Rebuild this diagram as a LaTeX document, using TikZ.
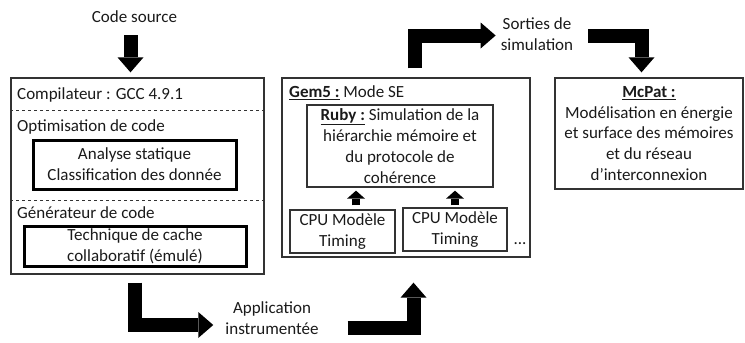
\documentclass[tikz,border=0pt]{standalone}
\usepackage{fontspec}
\setmainfont{Carlito}
\usetikzlibrary{arrows.meta,positioning,calc}
\definecolor{ink}{HTML}{1A1A1A}
\definecolor{edge}{HTML}{333333}
\tikzset{
  lbl/.style    ={align=center, inner sep=2pt, text=ink, font=\fontsize{17}{21}\selectfont},
  blk/.style    ={lbl, draw=edge, rectangle, line width=1.3pt},
  blkthick/.style={blk, draw=black, line width=3pt},
  cut/.style    ={dashed, line width=0.6pt, draw=edge},
  fat/.style    ={-{Triangle[length=15pt 0, width=26pt 0, line width=0pt]}, line width=14pt, line join=miter},
  arsmall/.style={-{Triangle[length=8pt 0, width=18pt 0, line width=0pt]}, line width=8pt},
}
\begin{document}
\begin{tikzpicture}[x=1pt,y=-1pt]
\useasboundingbox (0,0) rectangle (745,343);
\node[lbl] (code) at (134.5,17) {Code source};
\node[blk, minimum width=253pt, minimum height=196pt] (comp) at (137.5,176) {};
\node[lbl, anchor=west] (comptitle) at (15,95) {Compilateur : GCC 4.9.1};
\draw[cut] (comp.west |- 0,110) -- (comp.east |- 0,110);
\node[lbl, anchor=west] (optim) at (15,127) {Optimisation de code};
\node[blkthick, minimum width=203pt, minimum height=49pt] (analyse) at (134.5,164.5)
  {Analyse statique\\Classification des donnée};
\draw[cut] (comp.west |- 0,200) -- (comp.east |- 0,200);
\node[lbl, anchor=west] (gen) at (15,213) {Générateur de code};
\node[blkthick, minimum width=222pt, minimum height=40pt] (tech) at (135,246)
  {Technique de cache\\collaboratif (émulé)};
\node[blk, minimum width=248pt, minimum height=179pt] (gem) at (406,167.5) {};
\node[lbl, anchor=west] (gemtitle) at (287,93) {\underline{\textbf{Gem5 :}} Mode SE};
\node[blk, minimum width=186pt, minimum height=82pt, inner sep=0pt] (ruby) at (400,146)
  {\underline{\textbf{Ruby :}} Simulation de la\\hiérarchie mémoire et\\du protocole de\\cohérence};
\node[blk, minimum width=105pt, minimum height=43pt] (cpua) at (342.5,231.5) {CPU Modèle\\Timing};
\node[blk, minimum width=104pt, minimum height=43pt] (cpub) at (455,229.5) {CPU Modèle\\Timing};
\node[lbl] (dots) at (520,244) {...};
\draw[arsmall, shorten <=4pt, shorten >=3pt] ([xshift=13.5pt]cpua.north) -- ([xshift=13.5pt]cpua.north |- ruby.south);
\draw[arsmall, shorten <=2pt, shorten >=3pt] (cpub.north) -- (cpub.north |- ruby.south);
\node[blk, minimum width=188pt, minimum height=111pt, font=\fontsize{17}{20.75}\selectfont] (mcpat) at (649,133.5)
  {\underline{\textbf{McPat :}}\\Modélisation en énergie\\et surface des mémoires\\et du réseau\\d’interconnexion};
\node[lbl] (app) at (272,318) {Application\\instrumentée};
\node[lbl] (sorties) at (537,34) {Sorties de\\simulation};
\draw[fat, shorten <=10pt, shorten >=5pt] ([xshift=-4pt]code.south) -- ([xshift=-4pt]code.south |- comp.north);
\draw[fat, shorten <=8pt] ([xshift=-3pt]comp.south) |- ([xshift=-10pt, yshift=-7pt]app.west);
\draw[fat] ([xshift=27pt, yshift=-10pt]app.east) -| ([xshift=7.5pt, yshift=-25pt]gem.south);
\draw[fat] ([xshift=8.5pt, yshift=9pt]gem.north) |- ([xshift=-3pt, yshift=-1.5pt]sorties.west);
\draw[fat] ([xshift=13pt, yshift=-1.5pt]sorties.east) -| ([xshift=-7.5pt, yshift=5pt]mcpat.north);
\end{tikzpicture}
\end{document}
